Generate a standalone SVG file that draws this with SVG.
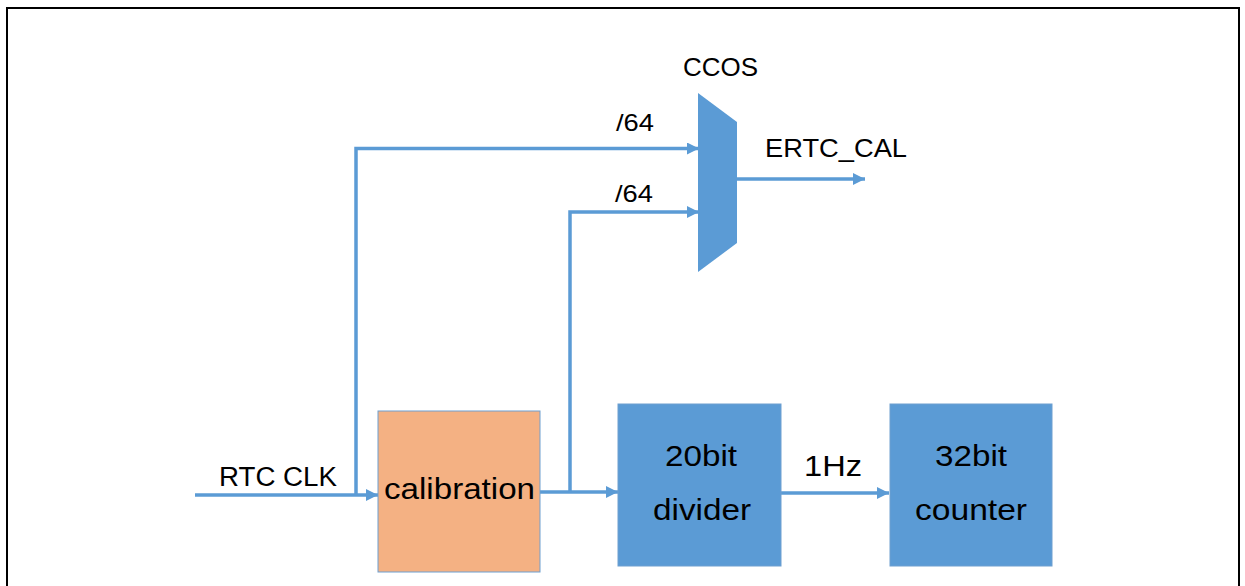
<svg xmlns="http://www.w3.org/2000/svg" width="1245" height="586" viewBox="0 0 1245 586">
<defs>
<style>
.t{font-family:"Liberation Sans",Arial,sans-serif;fill:#000}
.w{stroke:#5B9BD5;stroke-width:3.5;fill:none}
.blue{fill:#5B9BD5;stroke:#6E9FD0;stroke-width:1}
</style>
<marker id="ah" viewBox="0 0 12 12" refX="12" refY="6" markerWidth="12" markerHeight="12" markerUnits="userSpaceOnUse" orient="auto">
<path d="M0,0 L12,6 L0,12 Z" fill="#5B9BD5"/>
</marker>
</defs>
<rect width="1245" height="586" fill="#fff"/>
<path d="M7,586 V8 H1239 V586" fill="none" stroke="#000" stroke-width="2"/>
<g id="connectors">
<path class="w" d="M195,495 H378" marker-end="url(#ah)"/>
<path class="w" d="M356,495 V148.5 H699" marker-end="url(#ah)"/>
<path class="w" d="M540,492 H618" marker-end="url(#ah)"/>
<path class="w" d="M570,492 V212 H699" marker-end="url(#ah)"/>
<path class="w" d="M737,179 H865" marker-end="url(#ah)"/>
<path class="w" d="M781,493 H889" marker-end="url(#ah)"/>
<text class="t" x="219" y="486" font-size="27" textLength="118" lengthAdjust="spacingAndGlyphs">RTC CLK</text>
<text class="t" x="616" y="131" font-size="24" textLength="38" lengthAdjust="spacingAndGlyphs">/64</text>
<text class="t" x="615" y="202" font-size="24" textLength="38" lengthAdjust="spacingAndGlyphs">/64</text>
<text class="t" x="765" y="157" font-size="25" textLength="142" lengthAdjust="spacingAndGlyphs">ERTC_CAL</text>
<text class="t" x="804" y="476" font-size="29" textLength="58" lengthAdjust="spacingAndGlyphs">1Hz</text>
</g>
<g id="mux">
<polygon points="698,93 737,122 737,243 698,272" fill="#5B9BD5"/>
<text class="t" x="683" y="76" font-size="26" textLength="75" lengthAdjust="spacingAndGlyphs">CCOS</text>
</g>
<g id="calibration">
<rect x="378" y="411" width="162" height="161" fill="#F4B183" stroke="#6E9FD0" stroke-width="1"/>
<text class="t" x="384" y="499" font-size="30" textLength="151" lengthAdjust="spacingAndGlyphs">calibration</text>
</g>
<g id="divider">
<rect class="blue" x="618" y="404" width="163" height="162"/>
<text class="t" x="665" y="466" font-size="29" textLength="72" lengthAdjust="spacingAndGlyphs">20bit</text>
<text class="t" x="653" y="520" font-size="29" textLength="98" lengthAdjust="spacingAndGlyphs">divider</text>
</g>
<g id="counter">
<rect class="blue" x="890" y="404" width="162" height="162"/>
<text class="t" x="935" y="466" font-size="29" textLength="72" lengthAdjust="spacingAndGlyphs">32bit</text>
<text class="t" x="915" y="520" font-size="29" textLength="112" lengthAdjust="spacingAndGlyphs">counter</text>
</g>
</svg>
